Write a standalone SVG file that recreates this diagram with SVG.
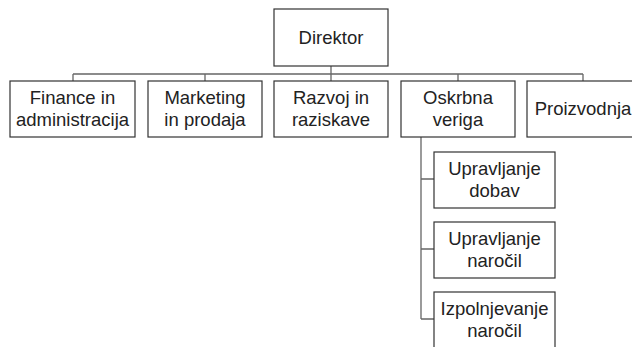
<svg xmlns="http://www.w3.org/2000/svg" width="632" height="347" viewBox="0 0 632 347">
<style>
.box{fill:#fff;stroke:#333;stroke-width:1.2}
.conn{fill:none;stroke:#666;stroke-width:1.3}
text{font-family:"Liberation Sans",Arial,sans-serif;font-size:18.5px;fill:#222;text-anchor:middle}
</style>
<rect width="632" height="347" fill="#fff"/>
<g id="connectors">
<path class="conn" d="M331,66 V74 M73,74 H583 M73,74 V81 M205,74 V81 M331,74 V81 M458,74 V81 M583,74 V81"/>
<path class="conn" d="M421,137 V319 M421,179 H434 M421,249 H434 M421,319 H434"/>
</g>
<g id="direktor"><rect class="box" x="274" y="9" width="114" height="57"/><text x="331" y="44">Direktor</text></g>
<g id="finance"><rect class="box" x="10" y="81" width="125" height="56"/><text x="72.5" y="104">Finance in</text><text x="72.5" y="126">administracija</text></g>
<g id="marketing"><rect class="box" x="148" y="81" width="114" height="56"/><text x="205" y="104">Marketing</text><text x="205" y="126">in prodaja</text></g>
<g id="razvoj"><rect class="box" x="274" y="81" width="114" height="56"/><text x="331" y="104">Razvoj in</text><text x="331" y="126">raziskave</text></g>
<g id="oskrbna"><rect class="box" x="401" y="81" width="114" height="56"/><text x="458" y="104">Oskrbna</text><text x="458" y="126">veriga</text></g>
<g id="proizvodnja"><rect class="box" x="527" y="81" width="112" height="56"/><text x="583" y="115">Proizvodnja</text></g>
<g id="dobav"><rect class="box" x="434" y="152" width="121" height="56"/><text x="494.5" y="175">Upravljanje</text><text x="494.5" y="197">dobav</text></g>
<g id="narocil"><rect class="box" x="434" y="222" width="121" height="56"/><text x="494.5" y="245">Upravljanje</text><text x="494.5" y="267">naročil</text></g>
<g id="izpolnjevanje"><rect class="box" x="434" y="292" width="121" height="60"/><text x="494.5" y="315">Izpolnjevanje</text><text x="494.5" y="337">naročil</text></g>
</svg>
